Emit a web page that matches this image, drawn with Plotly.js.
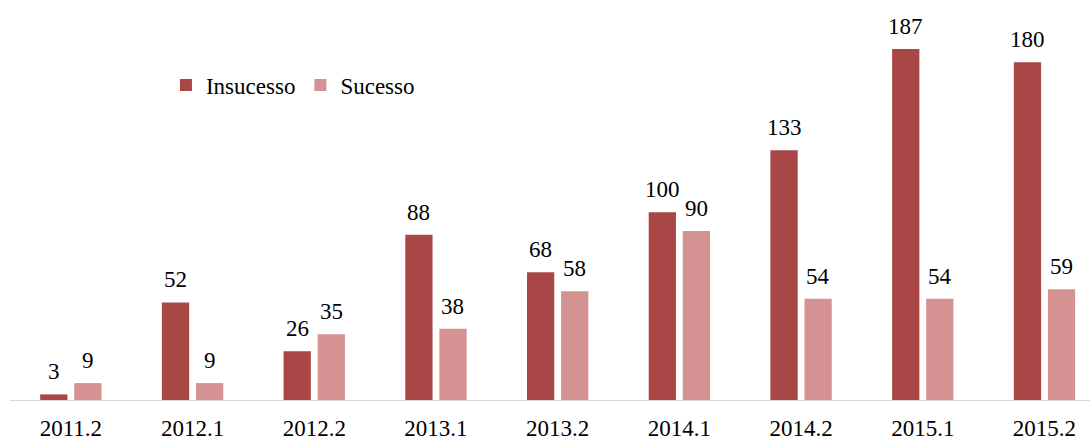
<!DOCTYPE html>
<html>
<head>
<meta charset="utf-8">
<script src="https://cdn.plot.ly/plotly-3.0.1.min.js"></script>
<style>html,body{margin:0;padding:0;background:#fff;}#chart{width:1090px;height:440px;}</style>
</head>
<body>
<div id="chart"></div>
<script>
const categories = ["2011.2","2012.1","2012.2","2013.1","2013.2","2014.1","2014.2","2015.1","2015.2"];
const insucesso = [3, 52, 26, 88, 68, 100, 133, 187, 180];
const sucesso = [9, 9, 35, 38, 58, 90, 54, 54, 59];
const seriesNames = ["Insucesso", "Sucesso"];
const colors = ["#A94646", "#D49292"];

const FONT = "'Times New Roman', 'Liberation Serif', Times, serif";

const traces = [insucesso, sucesso].map((vals, i) => ({
  type: "bar",
  name: seriesNames[i],
  x: categories,
  y: vals,
  marker: {color: colors[i]},
  hoverinfo: "x+y+name"
}));

const annotations = [];
[insucesso, sucesso].forEach((vals, i) => {
  vals.forEach((v, j) => {
    annotations.push({
      x: j, y: v, xref: "x", yref: "y",
      text: String(v), showarrow: false,
      xanchor: "center", yanchor: "bottom",
      xshift: i === 0 ? -17 : 17, yshift: 8,
      font: {family: FONT, size: 23, color: "#000"}
    });
  });
});

const layout = {
  width: 1090, height: 440,
  margin: {l: 10, r: 0, t: 0, b: 40},
  paper_bgcolor: "#fff", plot_bgcolor: "#fff",
  barmode: "group", bargap: 0.44, bargroupgap: 0.2,
  font: {family: FONT, size: 23, color: "#000"},
  xaxis: {
    type: "category", range: [-0.5, 8.374],
    showline: true, linecolor: "#D9D9D9", linewidth: 1,
    showgrid: false, zeroline: false, ticks: "",
    ticklabelstandoff: 7,
    tickfont: {family: FONT, size: 23, color: "#000"}
  },
  yaxis: {
    range: [0, 213.1], visible: false, showgrid: false, zeroline: false
  },
  showlegend: true,
  legend: {
    orientation: "h", x: 0.1444, y: 0.7875, xanchor: "left", yanchor: "middle",
    font: {family: FONT, size: 23, color: "#000"},
    bgcolor: "rgba(0,0,0,0)", traceorder: "normal"
  },
  annotations: annotations
};

Plotly.newPlot("chart", traces, layout, {displayModeBar: false, staticPlot: true});
</script>
</body>
</html>
